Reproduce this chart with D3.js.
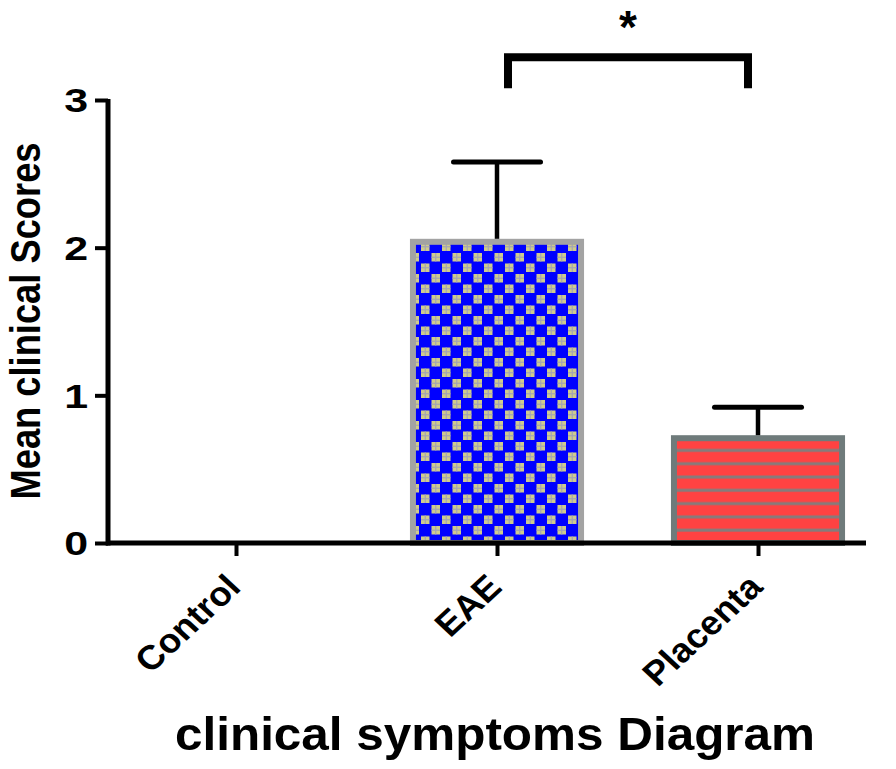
<!DOCTYPE html>
<html>
<head>
<meta charset="utf-8">
<script src="https://cdn.jsdelivr.net/npm/d3@7"></script>
<style>
  html, body { margin: 0; padding: 0; background: #fff; }
  svg { display: block; }
  text { font-family: "Liberation Sans", Arial, sans-serif; font-weight: bold; fill: #000; }
</style>
</head>
<body>
<svg id="chart" width="896" height="769"></svg>
<script>
// ---- data ----
const categories = ["Control", "EAE", "Placenta"];
const means = [0, 2.06, 0.73];
const sems = [0, 0.52, 0.19];
const yTicks = [0, 1, 2, 3];
const yTitle = "Mean clinical Scores";
const xTitle = "clinical symptoms Diagram";
const sigPair = ["EAE", "Placenta"];
const sigLabel = "*";
const sigLevel = [3.08, 3.29]; // bracket foot, bracket top (in score units)

// ---- setup ----
const svg = d3.select("#chart");
const y = d3.scaleLinear().domain([0, 3]).range([543, 100]);
const x = d3.scalePoint().domain(categories).range([105.5, 888.5]).padding(0.5);
const barW = x.step() * 0.667;

// ---- patterns ----
const defs = svg.append("defs");
const cell = 10.5;
const chk = defs.append("pattern").attr("id", "checker").attr("patternUnits", "userSpaceOnUse")
  .attr("width", cell * 2).attr("height", cell * 2);
chk.append("rect").attr("width", cell * 2).attr("height", cell * 2).attr("fill", "#0000ff");
[[cell, 0], [0, cell]].forEach(([px, py]) => {
  chk.append("rect").attr("x", px + 1).attr("y", py + 1).attr("width", cell - 2).attr("height", cell - 2).attr("fill", "#cfcb8c");
  chk.append("rect").attr("x", px + cell / 2 - 0.6).attr("y", py + 1).attr("width", 1.2).attr("height", cell - 2).attr("fill", "#a3a3b4");
  chk.append("rect").attr("x", px + 1).attr("y", py + cell / 2 - 0.6).attr("width", cell - 2).attr("height", 1.2).attr("fill", "#a3a3b4");
});
const str = defs.append("pattern").attr("id", "stripes").attr("patternUnits", "userSpaceOnUse")
  .attr("width", 20).attr("height", 13.3);
str.append("rect").attr("width", 20).attr("height", 13.3).attr("fill", "#ff4242");
str.append("rect").attr("y", 10).attr("width", 20).attr("height", 3).attr("fill", "#857c7c");

const fills = { "Control": "none", "EAE": "url(#checker)", "Placenta": "url(#stripes)" };
const borders = { "Control": "none", "EAE": "#a3a3a3", "Placenta": "#6f7b7b" };

// ---- bars ----
const bw = 6;
const data = categories.map((c, i) => ({ c, m: means[i], e: sems[i] }));
svg.append("g").selectAll("rect").data(data.filter(d => d.m > 0)).join("rect")
  .attr("x", d => x(d.c) - barW / 2 + bw / 2)
  .attr("y", d => y(d.m) + bw / 2)
  .attr("width", barW - bw)
  .attr("height", d => y(0) - y(d.m) - bw / 2)
  .attr("fill", d => fills[d.c])
  .attr("stroke", d => borders[d.c])
  .attr("stroke-width", bw);

// ---- error bars ----
const eg = svg.append("g").attr("stroke", "#000");
const capW = 87;
data.filter(d => d.e > 0).forEach(d => {
  eg.append("line").attr("x1", x(d.c)).attr("x2", x(d.c))
    .attr("y1", y(d.m)).attr("y2", y(d.m + d.e)).attr("stroke-width", 4.5);
  eg.append("line").attr("x1", x(d.c) - capW / 2).attr("x2", x(d.c) + capW / 2)
    .attr("y1", y(d.m + d.e)).attr("y2", y(d.m + d.e)).attr("stroke-width", 5)
    .attr("stroke-linecap", "round");
});

// ---- y axis ----
const ya = svg.append("g").attr("transform", "translate(108,0)")
  .call(d3.axisLeft(y).tickValues(yTicks).tickSize(13).tickFormat(d3.format("d")));
ya.select(".domain").remove();
ya.selectAll(".tick line").attr("stroke", "#000").attr("stroke-width", 4);
ya.selectAll(".tick text").remove();
ya.selectAll(".tick").append("text")
  .attr("transform", "translate(-20,0) scale(1.3,1)")
  .attr("text-anchor", "end").attr("dy", "0.36em")
  .style("font-size", "33px").text(d => d);
svg.append("line").attr("x1", 108).attr("x2", 108).attr("y1", y(3) - 1).attr("y2", y(0) + 2.5)
  .attr("stroke", "#000").attr("stroke-width", 5);

// ---- x axis ----
const xa = svg.append("g").attr("transform", "translate(0," + y(0) + ")")
  .call(d3.axisBottom(x).tickSize(13));
xa.select(".domain").remove();
xa.selectAll(".tick line").attr("stroke", "#000").attr("stroke-width", 4);
xa.selectAll(".tick text").remove();
xa.selectAll(".tick").append("text")
  .attr("transform", "translate(6,46) scale(1.08,1) rotate(-45)")
  .attr("text-anchor", "end")
  .style("font-size", "34px").text(d => d);
svg.append("line").attr("x1", 106).attr("x2", 866).attr("y1", y(0)).attr("y2", y(0))
  .attr("stroke", "#000").attr("stroke-width", 5);

// ---- significance bracket ----
const bx1 = x(sigPair[0]) + 11, bx2 = x(sigPair[1]) - 10;
svg.append("path")
  .attr("d", `M${bx1},${y(sigLevel[0])} V${y(sigLevel[1])} H${bx2} V${y(sigLevel[0])}`)
  .attr("fill", "none").attr("stroke", "#000").attr("stroke-width", 8);
svg.append("text").attr("x", (bx1 + bx2) / 2).attr("y", 43)
  .attr("text-anchor", "middle").style("font-size", "46px").text(sigLabel);

// ---- axis titles ----
svg.append("text")
  .attr("transform", "translate(40,321) scale(1.2,1) rotate(-90)")
  .attr("text-anchor", "middle")
  .attr("textLength", 357).attr("lengthAdjust", "spacingAndGlyphs")
  .style("font-size", "36px").text(yTitle);

svg.append("text")
  .attr("x", 175).attr("y", 750)
  .attr("textLength", 640).attr("lengthAdjust", "spacingAndGlyphs")
  .style("font-size", "47px").text(xTitle);
</script>
</body>
</html>
